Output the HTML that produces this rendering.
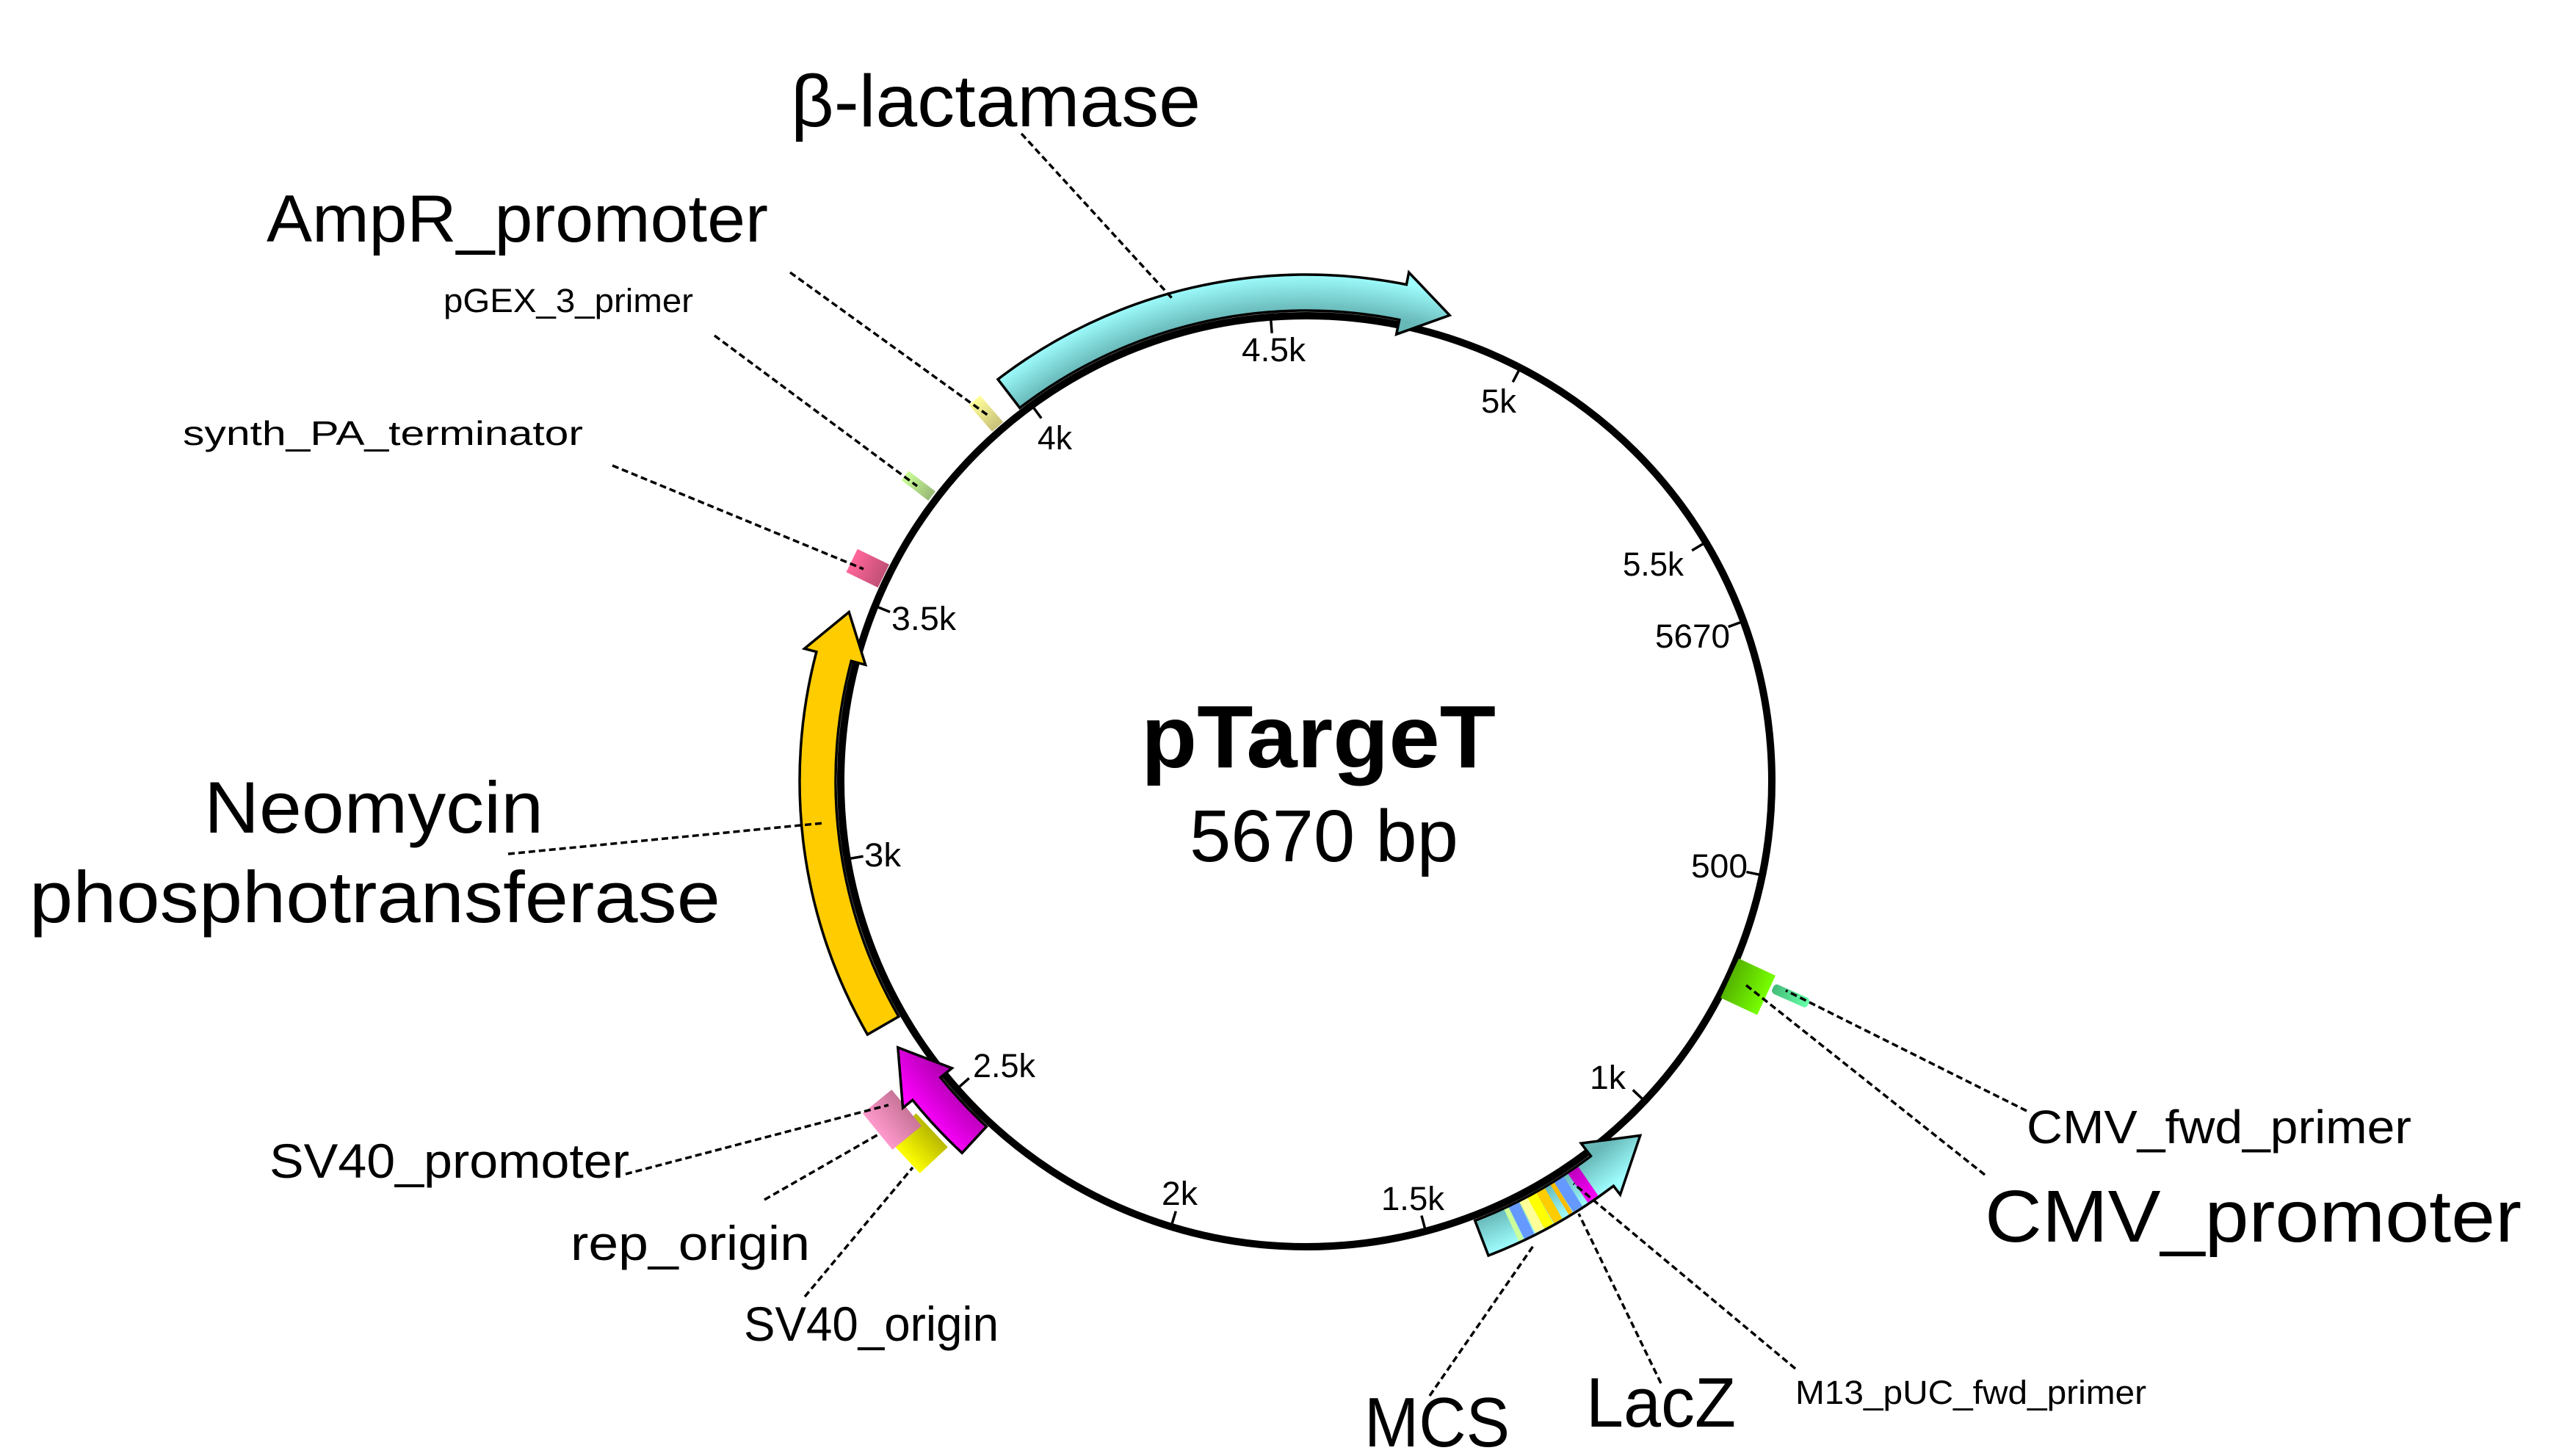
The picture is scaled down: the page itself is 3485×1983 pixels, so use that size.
<!DOCTYPE html>
<html>
<head>
<meta charset="utf-8">
<style>
  html,body{margin:0;padding:0;background:#fff;}
  svg{display:block;}
  text{font-family:"Liberation Sans", sans-serif; fill:#000;}
</style>
</head>
<body>
<svg width="3485" height="1983" viewBox="0 0 3485 1983" xmlns="http://www.w3.org/2000/svg">
  <defs>
    <radialGradient id="gCyan" gradientUnits="userSpaceOnUse" cx="1779" cy="1064" r="760">
      <stop offset="0.843" stop-color="#68b8b8"/>
      <stop offset="0.911" stop-color="#a0ffff"/>
    </radialGradient>
    <radialGradient id="gMag" gradientUnits="userSpaceOnUse" cx="1779" cy="1064" r="760">
      <stop offset="0.830" stop-color="#b000b0"/>
      <stop offset="0.915" stop-color="#ff00ff"/>
    </radialGradient>
    <radialGradient id="gAmp" gradientUnits="userSpaceOnUse" cx="1779" cy="1064" r="760">
      <stop offset="0.842" stop-color="#c8c07a"/>
      <stop offset="0.905" stop-color="#ffff99"/>
    </radialGradient>
    <radialGradient id="gPgex" gradientUnits="userSpaceOnUse" cx="1779" cy="1064" r="760">
      <stop offset="0.845" stop-color="#99bb77"/>
      <stop offset="0.905" stop-color="#ccff99"/>
    </radialGradient>
    <radialGradient id="gSynth" gradientUnits="userSpaceOnUse" cx="1779" cy="1064" r="760">
      <stop offset="0.842" stop-color="#c05075"/>
      <stop offset="0.905" stop-color="#ff6699"/>
    </radialGradient>
    <radialGradient id="gCmv" gradientUnits="userSpaceOnUse" cx="1779" cy="1064" r="760">
      <stop offset="0.837" stop-color="#55b400"/>
      <stop offset="0.909" stop-color="#77ff00"/>
    </radialGradient>
    <radialGradient id="gCmvF" gradientUnits="userSpaceOnUse" cx="1779" cy="1064" r="760">
      <stop offset="0.914" stop-color="#44bb77"/>
      <stop offset="0.984" stop-color="#66ffaa"/>
    </radialGradient>
    <radialGradient id="gSvP" gradientUnits="userSpaceOnUse" cx="1779" cy="1064" r="760">
      <stop offset="0.925" stop-color="#c87498"/>
      <stop offset="0.992" stop-color="#ff99cc"/>
    </radialGradient>
    <radialGradient id="gSvO" gradientUnits="userSpaceOnUse" cx="1779" cy="1064" r="760">
      <stop offset="0.917" stop-color="#b8b800"/>
      <stop offset="0.986" stop-color="#ffff00"/>
    </radialGradient>
  </defs>

  <!-- backbone circle -->
  <circle cx="1779" cy="1064" r="634" fill="none" stroke="#000" stroke-width="10"/>

  <!-- ticks -->
  <g stroke="#000" stroke-width="3.5">
    <line x1="1779" y1="433" x2="1779" y2="452" transform="rotate(69.9 1779 1064)"/>
    <line x1="1779" y1="433" x2="1779" y2="452" transform="rotate(101.65 1779 1064)"/>
    <line x1="1779" y1="433" x2="1779" y2="452" transform="rotate(133.39 1779 1064)"/>
    <line x1="1779" y1="433" x2="1779" y2="452" transform="rotate(165.14 1779 1064)"/>
    <line x1="1779" y1="433" x2="1779" y2="452" transform="rotate(196.88 1779 1064)"/>
    <line x1="1779" y1="433" x2="1779" y2="452" transform="rotate(228.63 1779 1064)"/>
    <line x1="1779" y1="433" x2="1779" y2="452" transform="rotate(260.38 1779 1064)"/>
    <line x1="1779" y1="433" x2="1779" y2="452" transform="rotate(292.12 1779 1064)"/>
    <line x1="1779" y1="433" x2="1779" y2="452" transform="rotate(323.87 1779 1064)"/>
    <line x1="1779" y1="433" x2="1779" y2="452" transform="rotate(355.61 1779 1064)"/>
    <line x1="1779" y1="433" x2="1779" y2="452" transform="rotate(27.36 1779 1064)"/>
    <line x1="1779" y1="433" x2="1779" y2="452" transform="rotate(59.11 1779 1064)"/>
  </g>

  <!-- small boxes (inner layer) -->
  <rect x="1769" y="376" width="20" height="48" fill="url(#gAmp)" transform="rotate(318.95 1779 1064)"/>
  <rect x="1771" y="377" width="16" height="46" fill="url(#gPgex)" transform="rotate(307.3 1779 1064)"/>
  <rect x="1761.5" y="376" width="35" height="48" fill="url(#gSynth)" transform="rotate(295.9 1779 1064)"/>
  <rect x="1749.5" y="373" width="59" height="55" fill="url(#gCmv)" transform="rotate(114.95 1779 1064)"/>
  <rect x="1772" y="316" width="14" height="53" rx="5" fill="url(#gCmvF)" transform="rotate(113.9 1779 1064)"/>

  <!-- outer layer boxes near SV40 -->
  <rect x="1747.5" y="315" width="63" height="52" fill="url(#gSvO)" transform="rotate(227 1779 1064)"/>
  <rect x="1747" y="310" width="64" height="51" fill="url(#gSvP)" transform="rotate(230.75 1779 1064)"/>

  <!-- beta-lactamase arrow -->
  <path d="M1359.0,516.6 A690,690 0 0 1 1915.4,387.6 L1918.7,371.0 L1974.2,429.4 L1901.7,455.3 L1905.7,435.6 A641,641 0 0 0 1388.8,555.5 Z"
        fill="url(#gCyan)" stroke="#000" stroke-width="3.5" stroke-linejoin="miter"/>

  <!-- Neomycin arrow -->
  <path d="M1181.4,1409 A690,690 0 0 1 1111.9,887.7 L1095.5,883.4 L1156.2,833.6 L1178.6,905.4 L1159.3,900.3 A641,641 0 0 0 1223.9,1384.5 Z"
        fill="#ffcc00" stroke="#000" stroke-width="3.5"/>

  <!-- magenta arrow -->
  <path d="M1310.2,1570.3 A690,690 0 0 1 1242.8,1498.2 L1229.6,1508.9 L1222.8,1426.6 L1296.4,1454.8 L1280.8,1467.4 A641,641 0 0 0 1343.5,1534.3 Z"
        fill="url(#gMag)" stroke="#000" stroke-width="3.5"/>

  <!-- LacZ arrow fill -->
  <path d="M2027.0,1710.0 A692,692 0 0 0 2197.4,1615.2 L2206.5,1627.1 L2233.7,1546.5 L2153.2,1557.1 L2166.5,1574.6 A641,641 0 0 1 2008.7,1662.4 Z"
        fill="url(#gCyan)" stroke="none"/>
  <!-- LacZ stripes -->
  <g>
    <line x1="1779" y1="374" x2="1779" y2="422" stroke="#ccff99" stroke-width="7" transform="rotate(154.9 1779 1064)"/>
    <line x1="1779" y1="374" x2="1779" y2="422" stroke="#6699ff" stroke-width="15" transform="rotate(153.9 1779 1064)"/>
    <line x1="1779" y1="374" x2="1779" y2="422" stroke="#ffff99" stroke-width="13" transform="rotate(152.55 1779 1064)"/>
    <line x1="1779" y1="374" x2="1779" y2="422" stroke="#ffff00" stroke-width="14" transform="rotate(151.4 1779 1064)"/>
    <line x1="1779" y1="374" x2="1779" y2="422" stroke="#ffcc00" stroke-width="13" transform="rotate(150.2 1779 1064)"/>
    <line x1="1779" y1="374" x2="1779" y2="422" stroke="#ffbb00" stroke-width="6" transform="rotate(148.55 1779 1064)"/>
    <line x1="1779" y1="374" x2="1779" y2="422" stroke="#6699ff" stroke-width="15" transform="rotate(147.6 1779 1064)"/>
    <line x1="1779" y1="374" x2="1779" y2="422" stroke="url(#gMag)" stroke-width="17" transform="rotate(145.55 1779 1064)"/>
  </g>
  <!-- LacZ arrow outline -->
  <path d="M2027.0,1710.0 A692,692 0 0 0 2197.4,1615.2 L2206.5,1627.1 L2233.7,1546.5 L2153.2,1557.1 L2166.5,1574.6 A641,641 0 0 1 2008.7,1662.4 Z"
        fill="none" stroke="#000" stroke-width="3.5"/>

  <!-- leader lines -->
  <g stroke="#000" stroke-width="3.5" stroke-dasharray="9,5" fill="none">
    <line x1="1391" y1="182" x2="1596" y2="406"/>
    <line x1="1076" y1="371" x2="1346" y2="566"/>
    <line x1="973" y1="457" x2="1249" y2="662"/>
    <line x1="834" y1="634" x2="1176" y2="775"/>
    <line x1="692" y1="1163" x2="1121" y2="1121"/>
    <line x1="852" y1="1599" x2="1210" y2="1505"/>
    <line x1="1041" y1="1634" x2="1198" y2="1544"/>
    <line x1="1096" y1="1766" x2="1243" y2="1590"/>
    <line x1="1947" y1="1901" x2="2088" y2="1697"/>
    <line x1="2262" y1="1884" x2="2150" y2="1653"/>
    <line x1="2445" y1="1864" x2="2143" y2="1612"/>
    <line x1="2703" y1="1600" x2="2377" y2="1341"/>
    <line x1="2760" y1="1513" x2="2432" y2="1349"/>
  </g>

  <!-- tick labels -->
  <g font-size="45" lengthAdjust="spacingAndGlyphs">
    <text x="1413" y="612" textLength="47" lengthAdjust="spacingAndGlyphs">4k</text>
    <text x="1691" y="492" textLength="87" lengthAdjust="spacingAndGlyphs">4.5k</text>
    <text x="2017" y="562" textLength="48" lengthAdjust="spacingAndGlyphs">5k</text>
    <text x="2210" y="784" textLength="83" lengthAdjust="spacingAndGlyphs">5.5k</text>
    <text x="2254" y="882" textLength="102" lengthAdjust="spacingAndGlyphs">5670</text>
    <text x="2303" y="1195" textLength="77" lengthAdjust="spacingAndGlyphs">500</text>
    <text x="2165" y="1483" textLength="49" lengthAdjust="spacingAndGlyphs">1k</text>
    <text x="1881" y="1648" textLength="86" lengthAdjust="spacingAndGlyphs">1.5k</text>
    <text x="1582" y="1641" textLength="49" lengthAdjust="spacingAndGlyphs">2k</text>
    <text x="1325" y="1467" textLength="85" lengthAdjust="spacingAndGlyphs">2.5k</text>
    <text x="1177" y="1180" textLength="50" lengthAdjust="spacingAndGlyphs">3k</text>
    <text x="1214" y="858" textLength="88" lengthAdjust="spacingAndGlyphs">3.5k</text>
  </g>

  <!-- feature labels -->
  <text x="1077" y="172" font-size="100" textLength="558" lengthAdjust="spacingAndGlyphs">β-lactamase</text>
  <text x="363" y="329" font-size="91" textLength="683" lengthAdjust="spacingAndGlyphs">AmpR_promoter</text>
  <text x="604" y="425" font-size="45" textLength="340" lengthAdjust="spacingAndGlyphs">pGEX_3_primer</text>
  <text x="249" y="606" font-size="46" textLength="545" lengthAdjust="spacingAndGlyphs">synth_PA_terminator</text>
  <text x="278" y="1134" font-size="99" textLength="462" lengthAdjust="spacingAndGlyphs">Neomycin</text>
  <text x="40" y="1256" font-size="99" textLength="941" lengthAdjust="spacingAndGlyphs">phosphotransferase</text>
  <text x="367" y="1604" font-size="66" textLength="490" lengthAdjust="spacingAndGlyphs">SV40_promoter</text>
  <text x="777" y="1716" font-size="66" textLength="326" lengthAdjust="spacingAndGlyphs">rep_origin</text>
  <text x="1013" y="1826" font-size="66" textLength="347" lengthAdjust="spacingAndGlyphs">SV40_origin</text>
  <text x="1858" y="1970" font-size="96" textLength="198" lengthAdjust="spacingAndGlyphs">MCS</text>
  <text x="2160" y="1943" font-size="96" textLength="204" lengthAdjust="spacingAndGlyphs">LacZ</text>
  <text x="2445" y="1912" font-size="45" textLength="478" lengthAdjust="spacingAndGlyphs">M13_pUC_fwd_primer</text>
  <text x="2703" y="1691" font-size="100" textLength="731" lengthAdjust="spacingAndGlyphs">CMV_promoter</text>
  <text x="2760" y="1557" font-size="64" textLength="524" lengthAdjust="spacingAndGlyphs">CMV_fwd_primer</text>

  <!-- center title -->
  <text x="1554" y="1045" font-size="121" font-weight="bold" textLength="483" lengthAdjust="spacingAndGlyphs">pTargeT</text>
  <text x="1620" y="1173" font-size="100" textLength="366" lengthAdjust="spacingAndGlyphs">5670 bp</text>
</svg>
</body>
</html>
